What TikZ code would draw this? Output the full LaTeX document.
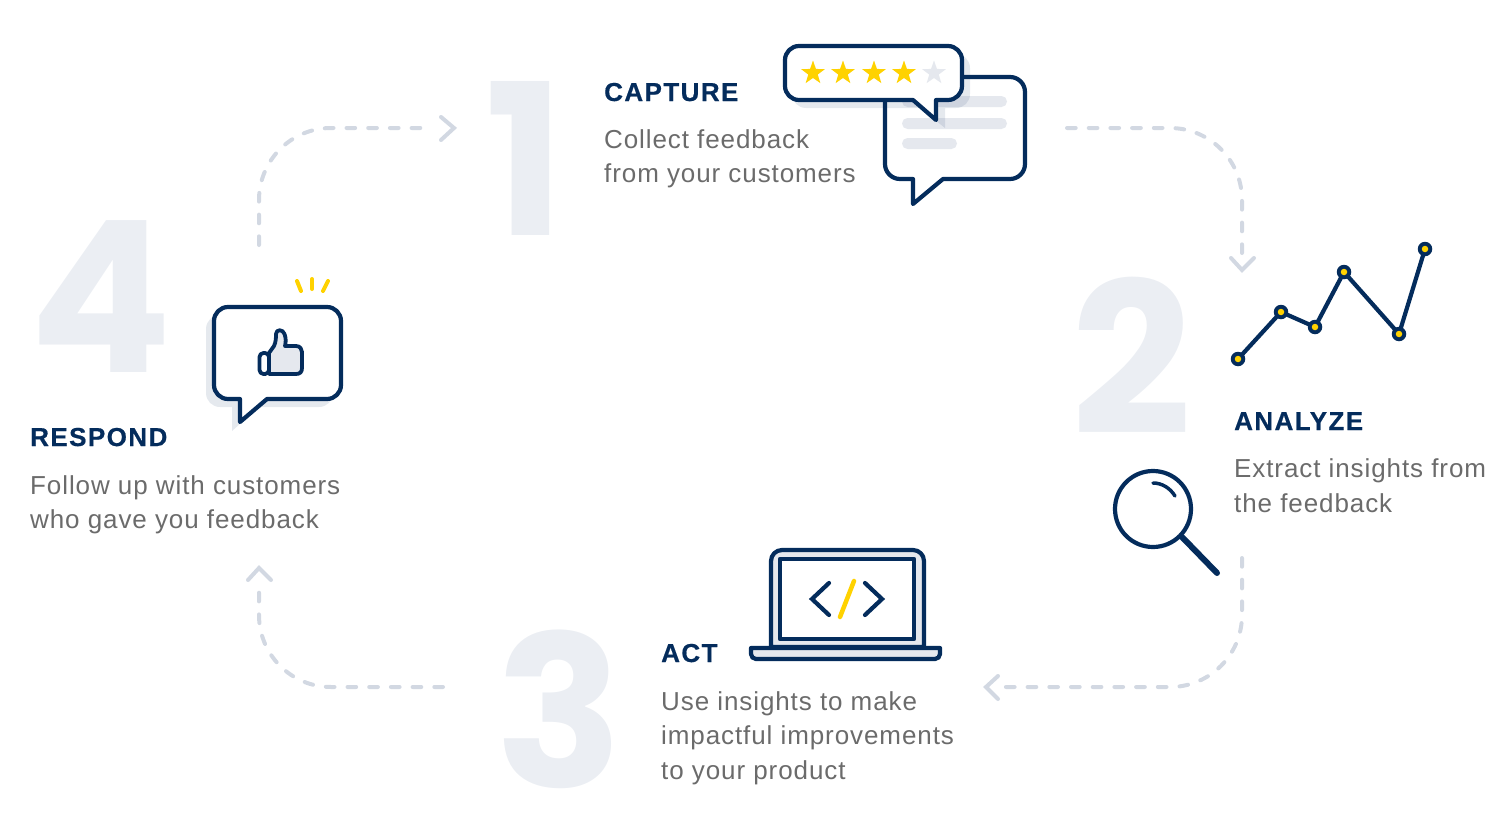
\documentclass[tikz,border=0pt]{standalone}
\usepackage{fontspec}
\setmainfont{Liberation Sans}
\newfontfamily\bodyfont[LetterSpace=3.5]{Liberation Sans}
\newfontfamily\headfont[LetterSpace=5.5,FakeBold=0.6]{Liberation Sans}
\newfontfamily\numfont{Poppins}
\usetikzlibrary{shapes.geometric}
\definecolor{navy}{HTML}{042C5C}
\definecolor{gold}{HTML}{FFD200}
\definecolor{pale}{HTML}{E5E8EE}
\definecolor{numgray}{HTML}{EBEEF3}
\definecolor{dashgray}{HTML}{D2D8E2}
\definecolor{bodygray}{HTML}{6B6B6B}
\tikzset{
  x=1pt,y=-1pt,
  icon/.style={draw=navy,line width=4.2pt,line join=round},
  flow/.style={draw=dashgray,line width=4pt,line cap=round,dash pattern=on 8.7pt off 13pt,rounded corners=72pt},
  chev/.style={draw=dashgray,line width=4pt,line cap=round},
  bignum/.style={anchor=base west,inner sep=0pt,text=numgray,font=\numfont\bfseries\fontsize{211}{211}\selectfont},
  headtext/.style={anchor=base west,inner sep=0pt,text=navy,font=\headfont\bfseries\fontsize{26}{30}\selectfont},
  bodytext/.style={anchor=base west,inner sep=0pt,text=bodygray,font=\bodyfont\fontsize{26}{30}\selectfont},
  staricon/.style={star,star points=5,star point ratio=2.5,minimum size=25pt,inner sep=0pt,fill=gold},
  dotring/.style={circle,fill=navy,minimum size=14.5pt,inner sep=0pt},
  dotcore/.style={circle,fill=gold,minimum size=6.5pt,inner sep=0pt},
  shade/.style={fill=navy,fill opacity=.1},
  bar/.style={fill=pale,rounded corners=5.5pt},
}
\begin{document}
\begin{tikzpicture}
\useasboundingbox (0,0) rectangle (1500,835);
% big numerals
\node[bignum] (n1) at (485,235) {1};
\node[bignum] (n2) at (1071,434) {2};
\node[bignum] (n3) at (495,787) {3};
\node[bignum] (n4) at (29.5,372) {4};
% flow connectors
\coordinate (a1s) at (259,245); \coordinate (a1c) at (259,128); \coordinate (a1e) at (429,128);
\coordinate (a2s) at (1067,128); \coordinate (a2c) at (1242,128); \coordinate (a2e) at (1242,258);
\coordinate (a3s) at (1242,558); \coordinate (a3c) at (1242,687); \coordinate (a3e) at (1000,687);
\coordinate (a4s) at (443,687); \coordinate (a4c) at (259,687); \coordinate (a4e) at (259,582);
\draw[flow] (a1s) -- (a1c) -- (a1e);
\draw[flow] (a2s) -- (a2c) -- (a2e);
\draw[flow] (a3s) -- (a3c) -- (a3e);
\draw[flow] (a4s) -- (a4c) -- (a4e);
\draw[chev] (441,117) -- (454,128) -- (441,140);
\draw[chev] (1231,258) -- (1242,270) -- (1254,258);
\draw[chev] (998,676) -- (986,687) -- (998,699);
\draw[chev] (248,580) -- (259,568) -- (271,580);
% capture icon
\draw[icon,fill=white] (913,179) [rounded corners=15pt] -- (885,179) -- (885,77) -- (1025,77) -- (1025,179) [sharp corners] -- (943,179) -- (913,204) -- cycle;
\fill[bar] (902,96) rectangle (1007,107);
\fill[bar] (902,118) rectangle (1007,129);
\fill[bar] (902,138) rectangle (957,149);
\fill[shade] (920,108) [rounded corners=14pt] -- (792,108) -- (792,54) -- (970,54) -- (970,108) [sharp corners] -- (945,108) -- (945,128) -- cycle;
\draw[icon,fill=white] (913,100) [rounded corners=14pt] -- (785,100) -- (785,46) -- (962,46) -- (962,100) [sharp corners] -- (936,100) -- (936,120) -- cycle;
\node[staricon] (s1) at (813,73) {};
\node[staricon] (s2) at (843,73) {};
\node[staricon] (s3) at (874,73) {};
\node[staricon] (s4) at (904,73) {};
\node[staricon,fill=pale] (s5) at (934,73) {};
% capture text
\node[headtext] (t1) at (604,101) {CAPTURE};
\node[bodytext] (b1a) at (604,148) {Collect feedback};
\node[bodytext] (b1b) at (604,182) {from your customers};
% analyze chart
\draw[navy,line width=4.2pt,line join=round] (1238,359) -- (1281,312) -- (1315,327) -- (1344,272) -- (1399,334) -- (1425,249);
\foreach \n/\p in {d1/{1238,359},d2/{1281,312},d3/{1315,327},d4/{1344,272},d5/{1399,334},d6/{1425,249}}{
  \node[dotring] (\n) at (\p) {};
  \node[dotcore] (\n c) at (\p) {};
}
\node[headtext] (t2) at (1234,430) {ANALYZE};
\node[bodytext] (b2a) at (1234,477) {Extract insights from};
\node[bodytext] (b2b) at (1234,512) {the feedback};
% magnifier
\draw[navy,line width=4.2pt] (1153,509) circle[radius=38];
\draw[navy,line width=6pt,line cap=round] (1182,537) -- (1217,573);
\draw[navy,line width=3.5pt,line cap=round] (1153,483) .. controls (1162,483) and (1170,488) .. (1175,496);
% laptop
\draw[icon,fill=pale] (771,647) [rounded corners=11pt] -- (771,550) -- (924,550) [sharp corners] -- (924,647) -- cycle;
\draw[icon,fill=white] (780,559) rectangle (914,639);
\draw[icon,fill=pale] (751,648) [rounded corners=5pt] -- (751,659) -- (940,659) [sharp corners] -- (940,648) -- cycle;
\draw[navy,line width=4.2pt,line cap=round,line join=miter] (829,583) -- (812,599) -- (829,615);
\draw[navy,line width=4.2pt,line cap=round,line join=miter] (865,583) -- (882,599) -- (865,615);
\draw[gold,line width=4.5pt,line cap=round] (854,581) -- (840,617);
\node[headtext] (t3) at (661,662) {ACT};
\node[bodytext] (b3a) at (661,710) {Use insights to make};
\node[bodytext] (b3b) at (661,744) {impactful improvements};
\node[bodytext] (b3c) at (661,779) {to your product};
% respond icon
\fill[navy,fill opacity=.1] (232,407) [rounded corners=14pt] -- (206,407) -- (206,315) -- (333,315) -- (333,407) [sharp corners] -- (259,407) -- (232,431) -- cycle;
\draw[icon,fill=white] (240,399) [rounded corners=14pt] -- (214,399) -- (214,307) -- (341,307) -- (341,399) [sharp corners] -- (267,399) -- (240,422) -- cycle;
\draw[gold,line width=4pt,line cap=round] (297,281) -- (301,291);
\draw[gold,line width=4pt,line cap=round] (312,279) -- (312,289);
\draw[gold,line width=4pt,line cap=round] (328,281) -- (323,291);
% thumb
\draw[navy,line width=3.8pt,line join=round,rounded corners=4pt] (259.5,353) rectangle (269,374);
\draw[navy,line width=3.8pt,line join=round,fill=pale] (269,353) -- (274,346) .. controls (276,342) and (276,337) .. (276,334) .. controls (276,329) and (283,329) .. (284.5,334) .. controls (286,338) and (286,342) .. (285,346) -- (296,346) .. controls (300,346) and (302,349) .. (302,352) -- (302,368) .. controls (302,372) and (300,374) .. (296,374) -- (269,374) -- cycle;
\node[headtext] (t4) at (30,446) {RESPOND};
\node[bodytext] (b4a) at (30,494) {Follow up with customers};
\node[bodytext] (b4b) at (30,528) {who gave you feedback};
\end{tikzpicture}
\end{document}
